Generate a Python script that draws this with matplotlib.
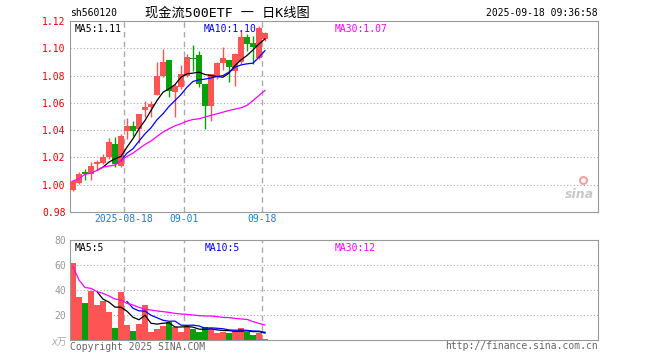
import numpy as np
import matplotlib.pyplot as plt

plt.rcParams['font.family'] = ['DejaVu Sans Mono', 'Noto Sans CJK SC']

# daily candles 2025-08-05 .. 2025-09-18
opens = [0.9964, 1.001, 1.009, 1.008, 1.015, 1.016, 1.020, 1.0295, 1.014, 1.0395, 1.0427,
         1.0405, 1.055, 1.0569, 1.066, 1.0795, 1.0915, 1.068, 1.0715, 1.080, 1.093, 1.0954,
         1.0735, 1.058, 1.080, 1.089, 1.0915, 1.0837, 1.090, 1.108, 1.1037, 1.093, 1.107]
closes = [1.0025, 1.008, 1.008, 1.014, 1.0166, 1.020, 1.031, 1.0155, 1.036, 1.0427, 1.0393,
          1.052, 1.057, 1.0593, 1.0796, 1.090, 1.0686, 1.0727, 1.0808, 1.0935, 1.092, 1.074,
          1.058, 1.0808, 1.089, 1.0927, 1.0866, 1.096, 1.108, 1.103, 1.1013, 1.115, 1.111]
highs = [1.0032, 1.009, 1.0117, 1.0166, 1.0183, 1.0227, 1.034, 1.035, 1.0373, 1.0488, 1.0464,
         1.052, 1.0617, 1.0617, 1.0898, 1.0995, 1.0915, 1.074, 1.0874, 1.096, 1.1027, 1.098,
         1.0735, 1.0813, 1.0898, 1.1013, 1.0915, 1.0964, 1.1135, 1.1105, 1.1093, 1.1166, 1.1118]
lows = [0.9954, 1.0003, 1.0032, 1.0032, 1.0117, 1.0154, 1.019, 1.013, 1.013, 1.0337, 1.0354,
        1.0305, 1.0495, 1.0495, 1.0654, 1.0788, 1.0642, 1.0495, 1.0703, 1.079, 1.0832, 1.0715,
        1.041, 1.047, 1.0776, 1.0842, 1.0752, 1.0727, 1.0886, 1.098, 1.0886, 1.092, 1.105]

ma5 = [np.nan] * 4 + [1.0105, 1.0129, 1.0166, 1.019, 1.0207, 1.0276, 1.0337, 1.041, 1.0471,
                      1.0544, 1.0617, 1.0678, 1.0703, 1.0734, 1.0788, 1.0813, 1.0818, 1.0825,
                      1.0808, 1.080, 1.0793, 1.0788, 1.0818, 1.0874, 1.0915, 1.0947, 1.0988,
                      1.1032, 1.1069]
ma10 = [np.nan] * 8 + [1.0175, 1.0232, 1.0264, 1.032, 1.0373, 1.0417, 1.0476, 1.052, 1.0574,
                       1.0617, 1.0661, 1.0715, 1.0757, 1.0769, 1.0774, 1.0783, 1.0793, 1.080,
                       1.0825, 1.0861, 1.0878, 1.0886, 1.0891, 1.0935, 1.0983]
ma30 = [1.0027, 1.0044, 1.0076, 1.0085, 1.0105, 1.0129, 1.0137, 1.0144, 1.0178, 1.0207, 1.0232,
        1.0264, 1.0295, 1.032, 1.0354, 1.0386, 1.041, 1.0432, 1.0447, 1.0466, 1.0478, 1.0483,
        1.0496, 1.0508, 1.052, 1.0532, 1.0544, 1.0554, 1.0564, 1.0581, 1.0617, 1.0654, 1.0691]

# volume in 万
volumes = [61.3, 34.7, 29.9, 39.5, 28, 31.5, 22.7, 9.9, 38.7, 12, 7.5, 12.8, 28, 6.7, 8.5, 11.2,
           14.7, 10.7, 6.7, 10.1, 9.1, 6.7, 10.1, 8.8, 5.9, 6.7, 5.9, 7.5, 9.6, 6.7, 4, 5.9, 1.1]
vol_ma5 = [np.nan] * 4 + [38.7, 32.7, 30.3, 26.3, 26.2, 23, 18.2, 16.2, 19.8, 13.4, 12.7, 13.4,
                          13.8, 10.4, 10.4, 10.7, 10.3, 8.7, 8.5, 9, 8.1, 7.6, 7.5, 7, 7.1, 7.3,
                          6.7, 6.7, 5.5]
vol_ma10 = [np.nan] * 9 + [30.8, 25.4, 23.3, 23.1, 19.8, 17.8, 15.8, 15, 15.1, 11.9, 11.7, 11.9,
                           11.2, 9.5, 9.7, 9.4, 9, 8.1, 7.8, 8, 7.7, 7.2, 7.1, 6.2]
vol_ma30 = [58.7, 48, 42, 41.3, 38.7, 37.3, 35.2, 32.8, 32, 29.3, 28, 26.1, 24.5, 24, 23.2, 22.7,
            22.1, 21.3, 20.8, 20.5, 20, 19.5, 19.2, 19.2, 18.7, 18.1, 17.9, 17.3, 16.8, 16.5,
            14.7, 13.3, 12]

date_pos = [8.5, 18.5, 31.5]
date_labels = ['2025-08-18', '09-01', '09-18']

RED = '#ff5454'
GREEN = '#08a008'
GRID = '#aaaaaa'
SPINE = '#999999'

o = np.array(opens); c = np.array(closes)
x = np.arange(len(o))
cols = np.where(c >= o, RED, GREEN)

W, H = 660, 360
fig = plt.figure(figsize=(6.6, 3.6), dpi=100)
ax = fig.add_axes([70 / W, 1 - 212 / H, 528 / W, 191 / H])
axv = fig.add_axes([70 / W, 1 - 340 / H, 528 / W, 100 / H])

# price panel
for y in np.arange(1.00, 1.101, 0.02):
    ax.axhline(y, color=GRID, ls=(0, (1, 2)), lw=0.8, zorder=0)
for xd in date_pos:
    ax.axvline(xd, color=GRID, ls=(0, (4, 3)), lw=1, zorder=0)
ax.vlines(x, lows, highs, color=cols, lw=1, zorder=2)
ax.bar(x, np.maximum(np.abs(c - o), 0.0005), bottom=np.minimum(o, c), width=0.85,
       color=cols, zorder=3)
ax.plot(x, ma5, color='black', lw=0.9, zorder=4)
ax.plot(x, ma10, color='#0000ff', lw=0.9, zorder=4)
ax.plot(x, ma30, color='#ff00ff', lw=0.9, zorder=4)
ax.set_xlim(-0.5, 87.5)
ax.set_ylim(0.98, 1.12)
yt = np.arange(0.98, 1.121, 0.02)
ax.set_yticks(yt)
ax.set_yticklabels(['%.2f' % v for v in yt], color='#ee0000', fontsize=7)
ax.set_xticks([])
ax.tick_params(axis='y', length=0, pad=3)
for s in ax.spines.values():
    s.set_color(SPINE)

for xd, lab in zip(date_pos, date_labels):
    ax.text(xd, 0.9785, lab, ha='center', va='top', fontsize=7, color='#1a7fd0',
            transform=ax.transData, clip_on=False)

ax.text(0.008, 0.985, 'MA5:1.11', transform=ax.transAxes, ha='left', va='top',
        fontsize=7, color='black')
ax.text(0.253, 0.985, 'MA10:1.10', transform=ax.transAxes, ha='left', va='top',
        fontsize=7, color='#0000ff')
ax.text(0.502, 0.985, 'MA30:1.07', transform=ax.transAxes, ha='left', va='top',
        fontsize=7, color='#ff00ff')

# sina logo (approx)
ax.text(0.965, 0.055, 'sina', transform=ax.transAxes, ha='center', va='bottom',
        fontsize=9, color='#c8c8c8', style='italic', weight='bold', family='DejaVu Sans')
ax.plot([0.972], [0.165], 'o', transform=ax.transAxes, ms=5, mfc='none',
        mec='#f2a0a0', mew=1.5)

# volume panel
for y in [20, 40, 60]:
    axv.axhline(y, color=GRID, ls=(0, (1, 2)), lw=0.8, zorder=0)
for xd in date_pos:
    axv.axvline(xd, color=GRID, ls=(0, (4, 3)), lw=1, zorder=0)
axv.bar(x, volumes, width=0.85, color=cols, zorder=2)
axv.plot(x, vol_ma5, color='black', lw=0.9, zorder=3)
axv.plot(x, vol_ma10, color='#0000ff', lw=0.9, zorder=3)
axv.plot(x, vol_ma30, color='#ff00ff', lw=0.9, zorder=3)
axv.set_xlim(-0.5, 87.5)
axv.set_ylim(0, 80)
axv.set_yticks([20, 40, 60, 80])
axv.set_yticklabels(['20', '40', '60', '80'], color='#999999', fontsize=7)
axv.set_xticks([])
axv.tick_params(axis='y', length=0, pad=3)
for s in axv.spines.values():
    s.set_color(SPINE)

axv.text(0.008, 0.97, 'MA5:5', transform=axv.transAxes, ha='left', va='top',
         fontsize=7, color='black')
axv.text(0.255, 0.97, 'MA10:5', transform=axv.transAxes, ha='left', va='top',
         fontsize=7, color='#0000ff')
axv.text(0.502, 0.97, 'MA30:12', transform=axv.transAxes, ha='left', va='top',
         fontsize=7, color='#ff00ff')

# header and footer texts
fig.text(70 / W, 1 - 13 / H, 'sh560120', ha='left', va='center', fontsize=7, color='black')
fig.text(227 / W, 1 - 13 / H, '现金流500ETF 一 日K线图', ha='center', va='center',
         fontsize=9.5, color='black')
fig.text(598 / W, 1 - 13 / H, '2025-09-18 09:36:58', ha='right', va='center', fontsize=7,
         color='black')
fig.text(67 / W, 1 - 342 / H, 'x万', ha='right', va='center', fontsize=7, color='#aaaaaa',
         style='italic')
fig.text(70 / W, 1 - 347 / H, 'Copyright 2025 SINA.COM', ha='left', va='center',
         fontsize=7, color='#666666')
fig.text(598 / W, 1 - 346 / H, 'http://finance.sina.com.cn', ha='right', va='center',
         fontsize=7, color='#666666')

fig.savefig('out.png', dpi=100)
